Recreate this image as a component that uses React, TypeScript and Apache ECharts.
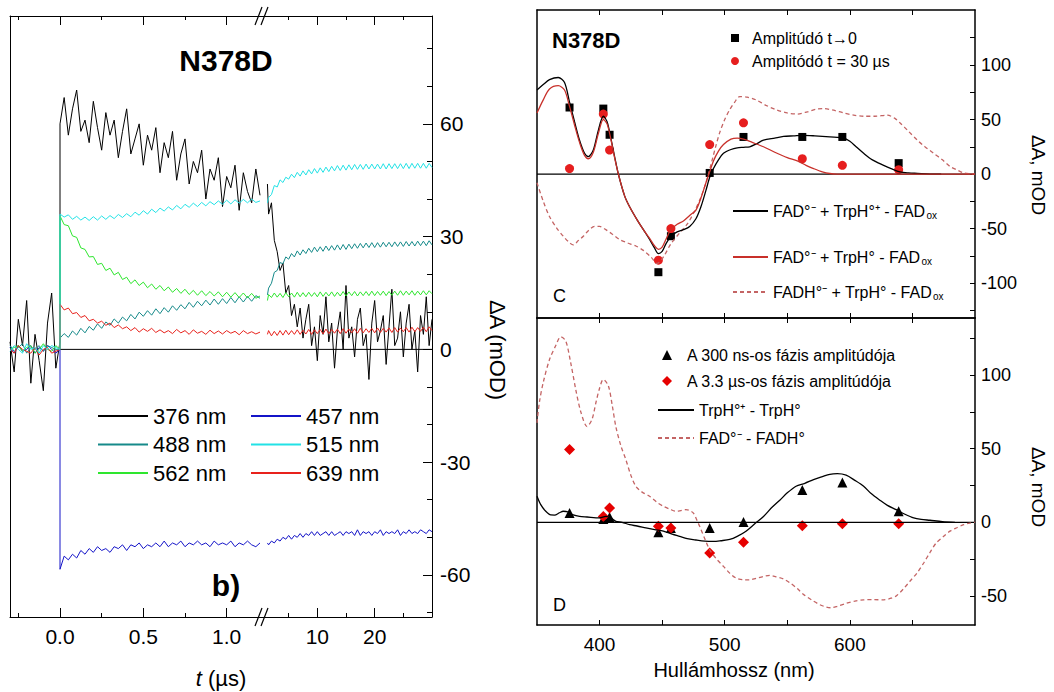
import React, { useEffect, useRef } from "react";
import * as echarts from "echarts";

const FONT = "'Liberation Sans', Arial, sans-serif";

// ---------- Left panel: kinetic traces (t in µs, ΔA in mOD) ----------
const tLeft = [-0.3, -0.275, -0.25, -0.225, -0.2, -0.175, -0.15, -0.125, -0.1, -0.075, -0.05, -0.025, 0, 0,
  0.025, 0.05, 0.075, 0.1, 0.125, 0.15, 0.175, 0.2, 0.225, 0.25, 0.275, 0.3, 0.325, 0.35, 0.375, 0.4, 0.425,
  0.45, 0.475, 0.5, 0.525, 0.55, 0.575, 0.6, 0.625, 0.65, 0.675, 0.7, 0.725, 0.75, 0.775, 0.8, 0.825, 0.85,
  0.875, 0.9, 0.925, 0.95, 0.975, 1.0, 1.025, 1.05, 1.075, 1.1, 1.125, 1.15, 1.175, 1.2];
const tRight = [1.3, 1.5, 2, 2.5, 3, 3.5, 4, 4.5, 5, 5.5, 6, 6.5, 7, 7.5, 8, 8.5, 9, 9.5, 10, 10.5, 11, 11.5,
  12, 12.5, 13, 13.5, 14, 14.5, 15, 15.5, 16, 16.5, 17, 17.5, 18, 18.5, 19, 19.5, 20, 20.5, 21, 21.5, 22, 22.5,
  23, 23.5, 24, 24.5, 25, 25.5, 26, 26.5, 27, 27.5, 28, 28.5, 29, 29.5, 30];

const w376L = [2, -6, 8, 1, 13, -9, 4, -3, -11, 7, 15, -5, 2,
  60, 67, 57, 64, 69, 58, 61, 55, 66, 59, 53, 63, 57, 61, 51, 58, 64, 52, 56, 60, 49, 57, 53, 59, 47, 55, 51,
  58, 45, 52, 56, 44, 50, 47, 53, 40, 48, 45, 51, 38, 46, 43, 49, 37, 47, 42, 39, 48, 41];
const w376R = [44, 36, 39, 29, 26, 21, 23, 15, 17, 9, 12, 6, 11, 3, 8, 12, 1, 6, -3, 9, 4, 14, 2, 7, -5, 5, 10,
  0, 17, 3, 6, -2, 8, 11, 1, 4, -8, 7, 13, 2, 5, 9, -4, 6, 16, 1, 3, 10, -2, 7, 12, 0, 5, -6, 9, 4, 14, 1, 8];

const w457L = [0.5, -1, 1, -0.5, 0, 1, -1, 0.5, -0.5, 1, 0, -1, 0,
  -58.5, -55, -56, -54.5, -55.5, -53.5, -54.5, -53, -54, -52.5, -53.5, -53, -54, -52.5, -53, -52, -53.5, -52,
  -52.5, -51.5, -53, -52, -52.5, -51.5, -52.5, -51, -52.5, -51.5, -52, -51, -52.5, -51.5, -52, -51, -52,
  -51.5, -52.5, -51, -52, -51.5, -52, -51, -52.5, -51.5, -52, -51, -52, -52.5, -51.5];
const w457R = [-51.5, -52, -51, -51.5, -50.5, -51, -50, -50.5, -49.5, -50.5, -49.5, -50, -49, -50, -49, -49.5,
  -48.5, -49.5, -48.5, -49.5, -49, -48.5, -49.5, -48.5, -49.5, -49, -48.5, -49.5, -48.5, -49, -48.5, -49.5,
  -48, -49.5, -48.5, -49, -48.5, -49.5, -48.5, -49, -48, -49.5, -48.5, -49, -48.5, -49, -48, -49.5, -48.5,
  -49, -48, -49, -48.5, -49, -48, -48.5, -49, -48, -48.5];

const w488L = [1, -0.5, 0.5, 1.5, -1, 0.5, 0, 1, -0.5, 1, 0.5, 0, 0,
  3, 4.2, 3.2, 4.9, 3.8, 5.6, 4.4, 6.1, 5.1, 6.8, 5.6, 7.3, 6.4, 8.1, 7, 8.6, 7.6, 9.3, 8.1, 9.9, 8.8, 10.3,
  9.1, 10.8, 9.5, 11.1, 9.9, 11.6, 10.4, 11.9, 10.8, 12.5, 11.2, 12.8, 11.6, 13.1, 11.8, 13.4, 12, 13.5, 12.2,
  13.8, 12.4, 14, 12.6, 14.1, 12.8, 14.3, 13.6];
const w488R = [14.5, 16.3, 17.6, 20.5, 21, 23.1, 22.8, 24.6, 24, 25.5, 24.6, 26.2, 25.1, 26.5, 25.5, 26.9,
  25.8, 27.2, 26, 27.3, 26.1, 27.5, 26.3, 27.6, 26.4, 27.8, 26.5, 27.9, 26.6, 28, 26.8, 28.1, 26.9, 28.2, 27,
  28.3, 27.1, 28.4, 27.1, 28.4, 27.2, 28.5, 27.3, 28.5, 27.3, 28.6, 27.4, 28.6, 27.4, 28.7, 27.5, 28.7, 27.5,
  28.8, 27.6, 28.8, 27.6, 28.9, 27.8];

const w515L = [-0.5, 1, 0, -1, 1.5, 0, 0.5, -1, 1, 0, 1, 0.5, 0,
  36, 35.2, 35.8, 34.6, 35.4, 34.4, 35.2, 34.3, 35.3, 34.4, 35.5, 34.6, 35.6, 34.8, 35.9, 35.1, 36.1, 35.3,
  36.5, 35.7, 36.9, 36, 37.3, 36.4, 37.6, 36.8, 37.9, 37.1, 38.3, 37.4, 38.6, 37.8, 38.9, 38, 39.1, 38.2,
  39.3, 38.5, 39.5, 38.6, 39.7, 38.7, 39.8, 38.9, 39.9, 39, 40, 39.1, 39.5];
const w515R = [39, 40.4, 41.2, 43.6, 43.2, 45.1, 44.4, 45.8, 45.3, 46.6, 45.7, 47.1, 46.1, 47.5, 46.4, 47.8,
  46.7, 48.1, 46.9, 48.3, 47.1, 48.5, 47.3, 48.7, 47.5, 48.9, 47.6, 49, 47.7, 49.1, 47.8, 49.2, 47.9, 49.2,
  47.9, 49.3, 48, 49.3, 48, 49.3, 48, 49.4, 48, 49.4, 48.1, 49.4, 48.1, 49.4, 48.1, 49.5, 48.1, 49.5, 48.2,
  49.5, 48.2, 49.5, 48.2, 49.5, 48.4];

const w562L = [0, 0.5, 1, -0.5, 0.5, 1, -1, 0, 1.5, 0, -0.5, 1, 0,
  35.5, 33.2, 32.9, 30.2, 29.8, 27, 26.6, 24.6, 24.7, 22.6, 22.9, 21, 21.6, 19.8, 20.5, 18.6, 19.2, 17.5,
  18.5, 17, 17.9, 16.4, 17.4, 16, 17, 15.6, 16.6, 15.2, 16.2, 14.9, 16, 14.6, 15.7, 14.4, 15.6, 14.3, 15.4,
  14.2, 15.3, 14, 15.2, 13.9, 15.1, 13.8, 15, 13.7, 14.9, 13.6, 14.2];
const w562R = [13, 14.6, 13.8, 15, 13.9, 14.9, 13.8, 15.1, 14, 15, 13.9, 15.2, 14, 15.1, 14, 15.2, 14.1, 15.1,
  14, 15.3, 14.1, 15.2, 14.2, 15.3, 14.1, 15.2, 14.2, 15.4, 14.2, 15.3, 14.3, 15.4, 14.2, 15.3, 14.3, 15.4,
  14.3, 15.5, 14.3, 15.4, 14.4, 15.5, 14.3, 15.4, 14.4, 15.5, 14.4, 15.6, 14.4, 15.5, 14.5, 15.6, 14.4, 15.5,
  14.5, 15.6, 14.5, 15.6, 14.8];

const w639L = [0, -1, 1, 0, -0.5, -1, 0.5, -1.5, 0, 0.5, -1, -0.5, 0,
  12, 10.5, 11, 9.5, 9.8, 8.5, 9, 7.6, 8, 7, 7.5, 6.4, 7, 5.8, 6.5, 5.5, 6, 5, 5.8, 4.6, 5.5, 4.8, 5.6, 4.5,
  5.2, 4.4, 5, 4.2, 5.3, 4.4, 5, 4, 5.2, 4.3, 4.8, 4, 5.1, 4.2, 4.9, 4.1, 5, 4.3, 4.8, 3.9, 5, 4.2, 4.7, 4.1, 4.6];
const w639R = [4, 5, 3.6, 4.8, 3.7, 5, 3.8, 5.1, 3.9, 5, 4, 5.2, 4, 5.1, 4.1, 5.3, 4, 5.2, 4.2, 5.3, 4.1, 5.4,
  4.2, 5.3, 4.3, 5.4, 4.2, 5.5, 4.3, 5.4, 4.4, 5.5, 4.3, 5.6, 4.4, 5.5, 4.5, 5.6, 4.4, 5.7, 4.5, 5.6, 4.6,
  5.7, 4.5, 5.8, 4.6, 5.7, 4.7, 5.8, 4.6, 5.9, 4.7, 5.8, 4.8, 5.9, 4.7, 6, 5];

// ---------- Right panels: spectra (nm, mOD) ----------
const wlPoints = [376, 403, 408, 447, 457, 488, 515, 562, 594, 639];
const ampT0 = [61, 60, 36, -90, -57, 1, 34, 34, 34, 10];
const amp30us = [5, 55, 22, -79, -50, 27, 47, 14, 8, 4];
const amp300ns = [6.3, 2.2, 3.6, -6.8, -3.9, -3.9, 0.2, 22, 27, 7.5];
const amp3us = [49.5, 4, 9.7, -2.7, -3.9, -20.8, -13.6, -2.3, -0.9, -0.9];

const wlCB = [350, 355, 360, 367, 372, 376, 380, 384, 388, 391, 395, 399, 403, 406, 409, 412, 415, 420, 424, 430,
  435, 440, 444, 447, 450, 453, 457, 462, 467, 472, 477, 481, 485, 488, 491, 495, 499, 505, 510, 515, 520, 525,
  531, 540, 547, 555, 563, 572, 584, 595, 600, 605, 611, 618, 627, 633, 640, 647, 654, 664, 673];
const specC_rad = [77, 82, 86.5, 88.5, 84, 66, 48, 31, 19, 16, 22, 40, 53, 48, 33, 16, 0, -20, -30, -42, -51,
  -60, -68, -73, -71, -64, -57, -53, -51, -48, -41, -30, -15, -3, 5, 13, 19, 22.5, 24, 24.5, 25, 27.5, 31, 33,
  34.5, 35, 35.5, 35, 34, 33, 30, 25, 19, 13, 8, 5, 2, 1, 0.6, 0, 0];

const wlCR = [350, 355, 360, 367, 372, 376, 380, 384, 388, 391, 395, 399, 403, 406, 409, 412, 415, 420, 424, 430,
  435, 440, 444, 447, 450, 453, 457, 462, 467, 472, 477, 481, 485, 488, 491, 495, 499, 505, 510, 515, 522, 531,
  540, 550, 558, 565, 571, 578, 584, 590, 700];
const specC_neu = [56, 68, 78, 81, 77, 62, 45, 29, 17, 14, 20, 37, 50, 46, 32, 15, 0, -20, -30, -42, -51, -59,
  -66, -69, -67, -60, -51, -46, -43, -38, -33, -22, -8, 2, 12, 21, 27, 32, 33, 32, 29, 25, 20, 15, 12, 8, 5, 2,
  0.5, 0, 0];

const wlCD = [350, 355, 360, 366, 371, 376, 379, 383, 387, 391, 396, 400, 405, 410, 416, 422, 429, 435, 441, 446,
  451, 457, 464, 470, 475, 480, 483, 487, 490, 493, 496, 500, 504, 508, 512, 518, 525, 533, 541, 550, 558, 566,
  573, 579, 587, 595, 603, 611, 620, 630, 636, 640, 647, 654, 660, 667, 674, 680, 686, 691, 700];
const specC_fadh = [-8, -25, -39, -50, -57, -63, -65, -61, -57, -52, -48, -48, -51, -55, -60, -63, -66, -70, -76,
  -82, -76, -64, -54, -46, -36, -24, -15, 0, 13, 26, 38, 50, 59, 66, 71, 70.5, 68, 63, 59, 56, 55, 57, 59.5, 60,
  58.5, 56, 54, 53, 53, 54, 51, 47, 39, 31, 25, 19, 13, 7, 3.5, 1, 0];

const wlDB = [350, 353, 357, 361, 364, 368, 371, 375, 379, 384, 390, 400, 405, 409, 413, 418, 424, 430, 437, 444,
  451, 458, 464, 470, 477, 484, 491, 497, 504, 510, 517, 524, 531, 537, 544, 550, 557, 564, 571, 578, 584, 590,
  597, 604, 611, 617, 624, 630, 637, 644, 651, 657, 664, 674, 684];
const specD_trp = [17.7, 12, 7.5, 5, 4.9, 6.5, 7.5, 7, 5, 4, 3.6, 3, 4, 3, 0.7, 0, -1.6, -2.5, -3.8, -5, -6, -8,
  -9.5, -11, -12, -12.8, -13, -12.5, -11.6, -9.5, -6, -1, 4, 9.5, 15, 20, 24.5, 26.5, 29, 31, 32.6, 33, 32, 28.5,
  24.5, 19.5, 15, 11.5, 8.6, 5.5, 3, 2, 1.4, 0.5, 0];

const wlDD = [350, 352, 355, 360, 365, 369, 373, 377, 381, 385, 390, 394, 397, 400, 403, 407, 410, 413, 417, 421,
  425, 429, 434, 440, 446, 451, 456, 461, 465, 469, 472, 475, 478, 480, 484, 488, 493, 499, 504, 509, 515, 520,
  525, 531, 536, 541, 547, 552, 558, 563, 570, 576, 581, 585, 590, 597, 604, 611, 619, 627, 633, 637, 643, 648,
  654, 659, 664, 669, 675, 680, 686, 691, 696, 700];
const specD_fad = [67.5, 82, 95, 110.5, 120, 126, 123, 108, 90, 75, 65, 70, 81, 91, 97, 92.7, 80, 65, 52, 42.6,
  32, 24.5, 20.5, 17.7, 13.5, 10.9, 9, 7.5, 8, 8.6, 8, 6.3, 1, -2.7, -11, -18.6, -24.5, -29.9, -34.5, -37.8, -39,
  -39, -38, -36.7, -36, -37, -38.5, -41, -45, -49, -53, -55.9, -57.5, -58, -57, -55, -53.5, -52.6, -52.5, -52.6,
  -51.5, -50, -45, -40, -34, -27.6, -20.5, -14, -9.5, -6, -3.5, -1.6, -0.5, 0];

const nameSq = "Amplitúdó t→0";
const nameCi = "Amplitódó t = 30 µs";
const nameL1 = "FAD°⁻ + TrpH°⁺ - FADox";
const nameL2 = "FAD°⁻ + TrpH° - FADox";
const nameL3 = "FADH°⁻ + TrpH° - FADox";
const nameTri = "A 300 ns-os fázis amplitúdója";
const nameDia = "A 3.3 µs-os fázis amplitúdója";
const nameD1 = "TrpH°⁺ - TrpH°";
const nameD2 = "FAD°⁻ - FADH°";

const richLabels: Record<string, string> = {
  [nameL1]: "{m|FAD°⁻ + TrpH°⁺ - FAD}{s|ox}",
  [nameL2]: "{m|FAD°⁻ + TrpH° - FAD}{s|ox}",
  [nameL3]: "{m|FADH°⁻ + TrpH° - FAD}{s|ox}",
};

const zip = (xs: number[], ys: number[]) => xs.map((x, i) => [x, ys[i]]);

const traceColors: Record<string, string> = {
  "376 nm": "#000000",
  "457 nm": "#1414c8",
  "488 nm": "#168a8a",
  "515 nm": "#22e2e6",
  "562 nm": "#2ee62e",
  "639 nm": "#e8221c",
};

function buildOption() {
  const axLine = (w: number) => ({ show: true, onZero: false, lineStyle: { color: "#000", width: w } });
  const noLine = { show: false, onZero: false };
  const tick = (vals: number[], len: number) => ({
    show: true, inside: true, length: len, customValues: vals, lineStyle: { color: "#000", width: 1 },
  });
  const noLabel = { show: false };
  const noSplit = { show: false };

  const xAxes: any[] = [];
  const yAxes: any[] = [];
  const addX = (o: any) => { xAxes.push({ type: "value", splitLine: noSplit, ...o }); return xAxes.length - 1; };
  const addY = (o: any) => { yAxes.push({ type: "value", splitLine: noSplit, ...o }); return yAxes.length - 1; };

  // Left panel, segment 1
  const xL1 = addX({
    gridIndex: 0, min: -0.3, max: 1.212, position: "bottom", axisLine: axLine(1), axisTick: tick([0, 0.5, 1], 9),
    axisLabel: { show: true, customValues: [0, 0.5, 1], formatter: (v: number) => v.toFixed(1), fontSize: 21, color: "#000", margin: 9 },
  });
  addX({ gridIndex: 0, min: -0.3, max: 1.212, position: "bottom", axisLine: noLine, axisTick: tick([-0.25, 0.25, 0.75], 4), axisLabel: noLabel });
  addX({ gridIndex: 0, min: -0.3, max: 1.212, position: "top", axisLine: axLine(1), axisTick: tick([0, 0.5, 1], 9), axisLabel: noLabel });
  addX({ gridIndex: 0, min: -0.3, max: 1.212, position: "top", axisLine: noLine, axisTick: tick([-0.25, 0.25, 0.75], 4), axisLabel: noLabel });
  // Left panel, segment 2
  const xL2 = addX({
    gridIndex: 1, min: 0.35, max: 30, position: "bottom", axisLine: axLine(1), axisTick: tick([10, 20], 9),
    axisLabel: { show: true, customValues: [10, 20], fontSize: 21, color: "#000", margin: 9 },
  });
  addX({ gridIndex: 1, min: 0.35, max: 30, position: "bottom", axisLine: noLine, axisTick: tick([5, 15, 25], 4), axisLabel: noLabel });
  addX({ gridIndex: 1, min: 0.35, max: 30, position: "top", axisLine: axLine(1), axisTick: tick([10, 20], 9), axisLabel: noLabel });
  addX({ gridIndex: 1, min: 0.35, max: 30, position: "top", axisLine: noLine, axisTick: tick([5, 15, 25], 4), axisLabel: noLabel });
  // Spectra C and D
  const wlTicks = [400, 450, 500, 550, 600, 650];
  const xC = addX({ gridIndex: 2, min: 350, max: 700, position: "bottom", axisLine: axLine(1.5), axisTick: tick(wlTicks, 5), axisLabel: noLabel });
  addX({ gridIndex: 2, min: 350, max: 700, position: "top", axisLine: axLine(1.5), axisTick: tick(wlTicks, 5), axisLabel: noLabel });
  const xD = addX({
    gridIndex: 3, min: 350, max: 700, position: "bottom", axisLine: axLine(1.5), axisTick: tick(wlTicks, 5),
    axisLabel: { show: true, customValues: [400, 500, 600], fontSize: 19, color: "#000", margin: 10 },
  });
  addX({ gridIndex: 3, min: 350, max: 700, position: "top", axisLine: axLine(1.5), axisTick: tick(wlTicks, 5), axisLabel: noLabel });

  const yL1 = addY({ gridIndex: 0, min: -71.2, max: 88.7, position: "left", axisLine: axLine(1), axisTick: { show: false }, axisLabel: noLabel });
  const yL2 = addY({
    gridIndex: 1, min: -71.2, max: 88.7, position: "right", axisLine: axLine(1), axisTick: tick([-60, -30, 0, 30, 60], 9),
    axisLabel: { show: true, customValues: [-60, -30, 0, 30, 60], fontSize: 21, color: "#000", margin: 8 },
  });
  addY({ gridIndex: 1, min: -71.2, max: 88.7, position: "right", axisLine: noLine, axisTick: tick([-70, -50, -40, -20, -10, 10, 20, 40, 50, 70, 80], 5), axisLabel: noLabel });
  const yC = addY({
    gridIndex: 2, min: -132, max: 150.4, position: "right", axisLine: axLine(1.5),
    axisTick: tick([-125, -100, -75, -50, -25, 0, 25, 50, 75, 100, 125], 5),
    axisLabel: { show: true, customValues: [-100, -50, 0, 50, 100], fontSize: 18, color: "#000", margin: 6 },
  });
  addY({ gridIndex: 2, min: -132, max: 150.4, position: "left", axisLine: axLine(1.5), axisTick: { show: false }, axisLabel: noLabel });
  const yD = addY({
    gridIndex: 3, min: -69.7, max: 138.7, position: "right", axisLine: axLine(1.5),
    axisTick: tick([-50, -25, 0, 25, 50, 75, 100, 125], 5),
    axisLabel: { show: true, customValues: [-50, 0, 50, 100], fontSize: 18, color: "#000", margin: 6 },
  });
  addY({ gridIndex: 3, min: -69.7, max: 138.7, position: "left", axisLine: axLine(1.5), axisTick: { show: false }, axisLabel: noLabel });

  const series: any[] = [];
  const line = (o: any) => series.push({ type: "line", showSymbol: false, symbol: "none", silent: true, ...o });

  // zero lines
  line({ xAxisIndex: xL1, yAxisIndex: yL1, data: [[0, 0], [1.212, 0]], lineStyle: { color: "#000", width: 1 } });
  line({ xAxisIndex: xL2, yAxisIndex: yL2, data: [[0.35, 0], [30, 0]], lineStyle: { color: "#000", width: 1 } });
  line({ xAxisIndex: xC, yAxisIndex: yC, data: [[350, 0], [700, 0]], lineStyle: { color: "#000", width: 1.3 } });
  line({ xAxisIndex: xD, yAxisIndex: yD, data: [[350, 0], [700, 0]], lineStyle: { color: "#000", width: 1.3 } });

  const traces: [string, number[], number[]][] = [
    ["376 nm", w376L, w376R],
    ["457 nm", w457L, w457R],
    ["488 nm", w488L, w488R],
    ["562 nm", w562L, w562R],
    ["639 nm", w639L, w639R],
    ["515 nm", w515L, w515R],
  ];
  traces.forEach(([name, l, r]) => {
    const c = traceColors[name];
    line({ name, xAxisIndex: xL1, yAxisIndex: yL1, data: zip(tLeft, l), color: c, lineStyle: { color: c, width: 1 } });
    line({ name, xAxisIndex: xL2, yAxisIndex: yL2, data: zip(tRight, r), color: c, lineStyle: { color: c, width: 1 } });
  });

  // Spectra C
  const RED_SOLID = "#c8302a";
  const RED_DASH = "#c46464";
  line({ name: nameL3, xAxisIndex: xC, yAxisIndex: yC, data: zip(wlCD, specC_fadh), smooth: 0.3, color: RED_DASH, lineStyle: { color: RED_DASH, width: 1.3, type: [4, 3] } });
  line({ name: nameL1, xAxisIndex: xC, yAxisIndex: yC, data: zip(wlCB, specC_rad), smooth: 0.3, color: "#000", lineStyle: { color: "#000", width: 1.3 } });
  line({ name: nameL2, xAxisIndex: xC, yAxisIndex: yC, data: zip(wlCR, specC_neu), smooth: 0.3, color: RED_SOLID, lineStyle: { color: RED_SOLID, width: 1.3 } });
  series.push({ type: "scatter", name: nameSq, xAxisIndex: xC, yAxisIndex: yC, data: zip(wlPoints, ampT0), symbol: "rect", symbolSize: 8, itemStyle: { color: "#000", opacity: 1 }, silent: true });
  series.push({ type: "scatter", name: nameCi, xAxisIndex: xC, yAxisIndex: yC, data: zip(wlPoints, amp30us), symbol: "circle", symbolSize: 9, itemStyle: { color: "#e61e1e", opacity: 1 }, silent: true });

  // Spectra D
  line({ name: nameD2, xAxisIndex: xD, yAxisIndex: yD, data: zip(wlDD, specD_fad), smooth: 0.3, color: RED_DASH, lineStyle: { color: RED_DASH, width: 1.3, type: [4, 3] } });
  line({ name: nameD1, xAxisIndex: xD, yAxisIndex: yD, data: zip(wlDB, specD_trp), smooth: 0.3, color: "#000", lineStyle: { color: "#000", width: 1.3 } });
  series.push({ type: "scatter", name: nameTri, xAxisIndex: xD, yAxisIndex: yD, data: zip(wlPoints, amp300ns), symbol: "triangle", symbolSize: 10, itemStyle: { color: "#000", opacity: 1 }, silent: true });
  series.push({ type: "scatter", name: nameDia, xAxisIndex: xD, yAxisIndex: yD, data: zip(wlPoints, amp3us), symbol: "diamond", symbolSize: 11, itemStyle: { color: "#e60000", opacity: 1 }, silent: true });

  const legBase = { orient: "vertical", padding: 0, selectedMode: false };
  const richTS = {
    fontSize: 16, color: "#000",
    rich: { m: { fontSize: 16, color: "#000", fontFamily: FONT }, s: { fontSize: 10, color: "#000", fontFamily: FONT, padding: [8, 0, 0, 1] } },
  };
  const legend = [
    { ...legBase, data: ["376 nm", "488 nm", "562 nm"], left: 97, top: 405, itemWidth: 50, itemHeight: 14, itemGap: 6.5, textStyle: { fontSize: 22, color: "#000" }, itemStyle: { opacity: 0 } },
    { ...legBase, data: ["457 nm", "515 nm", "639 nm"], left: 250, top: 405, itemWidth: 50, itemHeight: 14, itemGap: 6.5, textStyle: { fontSize: 22, color: "#000" }, itemStyle: { opacity: 0 } },
    { ...legBase, data: [{ name: nameSq, icon: "path://M0,0L10,0L10,10L0,10Z" }, { name: nameCi, icon: "circle" }], left: 731, top: 30, itemWidth: 24, itemHeight: 8, itemGap: 7, textStyle: { fontSize: 16, color: "#000" }, itemStyle: { opacity: 1 } },
    { ...legBase, data: [nameL1], left: 732, top: 203, itemWidth: 35, itemHeight: 10, textStyle: richTS, formatter: (n: string) => richLabels[n], itemStyle: { opacity: 0 } },
    { ...legBase, data: [nameL2], left: 732, top: 249, itemWidth: 35, itemHeight: 10, textStyle: richTS, formatter: (n: string) => richLabels[n], itemStyle: { opacity: 0 } },
    { ...legBase, data: [nameL3], left: 732, top: 284, itemWidth: 35, itemHeight: 10, textStyle: richTS, formatter: (n: string) => richLabels[n], itemStyle: { opacity: 0 } },
    { ...legBase, data: [{ name: nameTri, icon: "path://M5,0L10,10L0,10Z" }, { name: nameDia, icon: "path://M5,0L10,5L5,10L0,5Z" }], left: 662, top: 347, itemWidth: 30, itemHeight: 10, itemGap: 10, textStyle: { fontSize: 16, color: "#000" }, itemStyle: { opacity: 1 } },
    { ...legBase, data: [nameD1, nameD2], left: 657, top: 402, itemWidth: 36, itemHeight: 10, itemGap: 12, textStyle: { fontSize: 16, color: "#000" }, itemStyle: { opacity: 0 } },
  ];

  const txt = (x: number, y: number, text: string, size: number, extra: any = {}) => ({
    type: "text", x, y, silent: true,
    style: { text, fontSize: size, fontFamily: FONT, fill: "#000", align: "center", verticalAlign: "middle", ...extra },
  });
  const brk = (x1: number, y1: number, x2: number, y2: number) => ({
    type: "line", silent: true, shape: { x1, y1, x2, y2 }, style: { stroke: "#000", lineWidth: 1.2 },
  });

  const graphic = [
    txt(226, 60, "N378D", 30, { fontWeight: "bold" }),
    txt(226, 585, "b)", 30, { fontWeight: "bold" }),
    {
      type: "text", x: 221, y: 678, silent: true,
      style: {
        text: "{i|t}{n| (µs)}", align: "center", verticalAlign: "middle", fill: "#000",
        rich: { i: { fontStyle: "italic", fontSize: 22, fontFamily: FONT }, n: { fontSize: 22, fontFamily: FONT } },
      },
    },
    { ...txt(497, 350, "ΔA (mOD)", 22), rotation: -Math.PI / 2 },
    txt(552, 40, "N378D", 22, { fontWeight: "bold", align: "left" }),
    txt(553, 296, "C", 18, { align: "left" }),
    txt(553, 605, "D", 18, { align: "left" }),
    { ...txt(1038, 175, "ΔA, mOD", 19), rotation: -Math.PI / 2 },
    { ...txt(1038, 487, "ΔA, mOD", 19), rotation: -Math.PI / 2 },
    txt(734, 670, "Hullámhossz (nm)", 20),
    brk(255, 25, 262, 7), brk(261, 25, 268, 7),
    brk(255, 626, 262, 608), brk(261, 626, 268, 608),
  ];

  return {
    animation: false,
    backgroundColor: "#fff",
    textStyle: { fontFamily: FONT },
    grid: [
      { left: 10, top: 16, width: 252, height: 601, outerBoundsMode: "none" },
      { left: 262, top: 16, width: 170, height: 601, outerBoundsMode: "none" },
      { left: 537, top: 10, width: 438, height: 308, outerBoundsMode: "none" },
      { left: 537, top: 318, width: 438, height: 307, outerBoundsMode: "none" },
    ],
    xAxis: xAxes,
    yAxis: yAxes,
    legend,
    series,
    graphic,
  };
}

export default function App() {
  const ref = useRef<HTMLDivElement>(null);
  useEffect(() => {
    if (!ref.current) return;
    const chart = echarts.init(ref.current, null, { renderer: "svg" });
    chart.setOption(buildOption() as any);
    return () => chart.dispose();
  }, []);
  return (
    <div
      ref={ref}
      style={{ position: "absolute", left: 0, top: 0, width: 1054, height: 692, background: "#fff" }}
    />
  );
}
